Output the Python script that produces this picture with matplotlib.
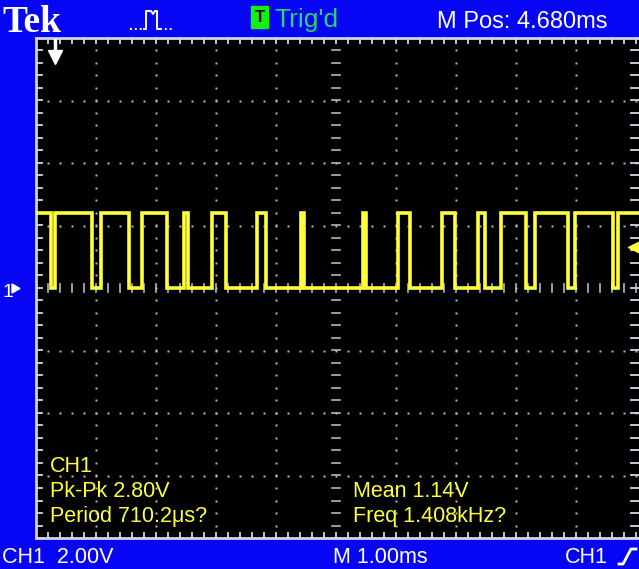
import numpy as np
import matplotlib
matplotlib.use('Agg')
import matplotlib.pyplot as plt
from matplotlib.lines import Line2D
from matplotlib.patches import Rectangle, Polygon

# scope settings
volts_per_div = 2.0
ms_per_div = 1.0
trig_pos_ms = 0.317
trig_level_v = 1.31

# CH1 trace: level switches at these times (ms from left edge), starts high
edge_ms = [0.245, 0.317, 0.928, 1.078, 1.555, 1.762, 2.188, 2.467, 2.538, 2.928,
           3.167, 3.688, 3.833, 4.412, 4.467, 5.455, 5.500, 6.038, 6.233, 6.762,
           6.983, 7.372, 7.483, 7.745, 8.167, 8.317, 8.872, 8.983, 9.622, 9.705]
high_v = 2.4
low_v = 0.0
end_ms = 10.05

# readouts
top_right = "M Pos: 4.680ms"
bottom_left = "CH1  2.00V"
bottom_mid = "M 1.00ms"
meas_left = ["CH1", "Pk-Pk 2.80V", "Period 710.2\u03bcs?"]
meas_right = ["Mean 1.14V", "Freq 1.408kHz?"]

W, H = 639, 569
BLUE = '#0606f4'
YEL = '#ffff3c'
GRID = '#b8b8b8'
FRAME = '#d4d4ec'
SANS = ['Liberation Sans', 'DejaVu Sans']


def fx(px):
    return px / W


def fy(py):
    return 1 - py / H


fig = plt.figure(figsize=(W / 100, H / 100), dpi=100, facecolor=BLUE)

ax = fig.add_axes([fx(36), fy(538), (W - 36) / W, 500 / H])
ax.set_facecolor('black')
ax.set_xlim(0, end_ms)
ax.set_ylim(-4 * volts_per_div, 4 * volts_per_div)
ax.set_xticks([])
ax.set_yticks([])
for s in ax.spines.values():
    s.set_visible(False)

# dotted graticule, dots every 0.2 div
dx = 0.2 * ms_per_div
dy = 0.2 * volts_per_div
ys = np.arange(-4 * volts_per_div, 4 * volts_per_div + 1e-9, dy)
xs = np.arange(0, 10 * ms_per_div + 1e-9, dx)
for k in [1, 2, 3, 4, 6, 7, 8, 9]:
    ax.plot(np.full_like(ys, k * ms_per_div), ys, ls='none', marker='s',
            ms=1.6, mfc=GRID, mec='none')
for k in [-3, -2, -1, 1, 2, 3]:
    ax.plot(xs, np.full_like(xs, k * volts_per_div), ls='none', marker='s',
            ms=1.6, mfc=GRID, mec='none')

# centre cross with tick marks
for x in xs:
    ax.plot([x, x], [-0.13, 0.13], color=GRID, lw=1.2)
for y in ys:
    ax.plot([5 - 0.07, 5 + 0.07], [y, y], color=GRID, lw=1.2)

# frame ticks
for x in xs:
    ax.plot([x, x], [8, 8 - 0.16], color=FRAME, lw=1.3)
    ax.plot([x, x], [-8, -8 + 0.16], color=FRAME, lw=1.3)
for y in ys:
    ax.plot([0, 0.1], [y, y], color=FRAME, lw=1.3)
    ax.plot([10 - 0.08, 10.05], [y, y], color=FRAME, lw=1.3)
ax.plot([0, end_ms], [8, 8], color=FRAME, lw=2, clip_on=False)
ax.plot([0, end_ms], [-8, -8], color=FRAME, lw=2, clip_on=False)
ax.plot([0, 0], [-8, 8], color=FRAME, lw=2, clip_on=False)

# square wave from the edge list
t = np.concatenate([[0.0], np.repeat(edge_ms, 2), [end_ms]])
lev = []
state = True
lev.append(high_v)
for _ in edge_ms:
    lev.append(high_v if state else low_v)
    state = not state
    lev.append(high_v if state else low_v)
lev.append(high_v if state else low_v)
ax.plot(t, lev, color=YEL, lw=2.6, solid_joinstyle='miter')

# trigger position marker (top) and trigger level marker (right)
ax.plot([trig_pos_ms, trig_pos_ms], [7.95, 7.55], color='white', lw=2.5)
ax.plot([trig_pos_ms], [7.4], marker='v', ms=10, mfc='white', mec='white')
ax.plot([9.96], [trig_level_v], marker='<', ms=9, mfc=YEL, mec=YEL, clip_on=False)
ax.plot([9.96, 10.05], [trig_level_v, trig_level_v], color=YEL, lw=3, clip_on=False)

# measurement readouts
for i, s in enumerate(meas_left):
    ax.text(0.23, -5.9 - i * 0.8, s, color=YEL, fontsize=15.5,
            family=SANS, va='baseline', ha='left')
for i, s in enumerate(meas_right):
    ax.text(5.28, -6.7 - i * 0.8, s, color=YEL, fontsize=15.5,
            family=SANS, va='baseline', ha='left')

# ground marker for CH1
fig.text(fx(2), fy(297), "1", color='white', fontsize=14, family=SANS,
         va='baseline', ha='left')
fig.add_artist(Polygon([[fx(12), fy(284)], [fx(12), fy(293)], [fx(20), fy(288.5)]],
                       closed=True, color='white', transform=fig.transFigure))

# top status bar
fig.text(fx(2), fy(32), "Tek", color='white', fontsize=27, family='Liberation Serif',
         weight='bold', va='baseline', ha='left')
icon_x = [144, 146, 146, 151, 153, 155, 157, 157, 159]
icon_y = [29, 29, 11, 11, 14, 11, 11, 29, 29]
fig.add_artist(Line2D([fx(v) for v in icon_x], [fy(v) for v in icon_y], color='white',
                      lw=1.4, transform=fig.transFigure))
for a, b in [(130, 143), (160, 172)]:
    fig.add_artist(Line2D([fx(a), fx(b)], [fy(29), fy(29)], color='white', lw=1.4,
                          ls=(0, (1, 1.5)), transform=fig.transFigure))
fig.add_artist(Rectangle((fx(251), fy(28)), fx(268) - fx(251), fy(6) - fy(28),
                         color='#11f011', transform=fig.transFigure))
fig.text(fx(259.5), fy(17), "T", color='black', fontsize=12, family=SANS,
         weight='bold', va='center', ha='center')
fig.text(fx(274), fy(27), "Trig'd", color='#2fd36a', fontsize=19, family=SANS,
         va='baseline', ha='left')
fig.text(fx(437), fy(28), top_right, color='white', fontsize=17, family=SANS,
         va='baseline', ha='left')

# bottom status bar
fig.text(fx(2), fy(563), bottom_left, color='white', fontsize=15.5, family=SANS,
         va='baseline', ha='left')
fig.text(fx(333), fy(563), bottom_mid, color='white', fontsize=15.5, family=SANS,
         va='baseline', ha='left')
fig.text(fx(565), fy(563), "CH1", color='white', fontsize=15.5, family=SANS,
         va='baseline', ha='left')
slope_x = [619, 623, 631, 636]
slope_y = [564, 564, 549, 549]
fig.add_artist(Line2D([fx(v) for v in slope_x], [fy(v) for v in slope_y],
                      color='white', lw=2, transform=fig.transFigure))

fig.savefig('out.png', dpi=100, facecolor=BLUE)
